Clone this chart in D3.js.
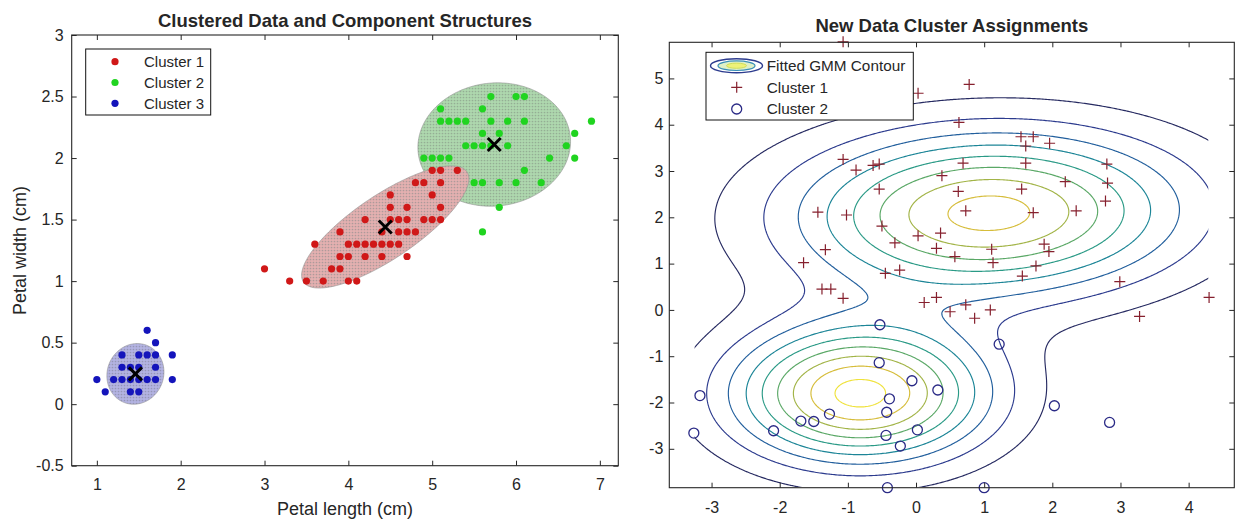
<!DOCTYPE html>
<html>
<head>
<meta charset="utf-8">
<script src="https://cdn.jsdelivr.net/npm/d3@7"></script>
<style>
  body { margin: 0; background: #fff; }
  text { font-family: "Liberation Sans", Arial, Helvetica, sans-serif; fill: #262626; }
</style>
</head>
<body>
<svg id="viewport"></svg>
<script>
// ---------- left panel: petal length / width, coloured by cluster ----------
const cluster1 = [[3.3,1.0],[3.5,1.0],[3.7,1.0],[4.0,1.0],[4.1,1.0],
  [3.0,1.1],[3.8,1.1],[3.9,1.1],
  [3.9,1.2],[4.0,1.2],[4.2,1.2],[4.4,1.2],[4.7,1.2],
  [3.6,1.3],[4.0,1.3],[4.1,1.3],[4.2,1.3],[4.3,1.3],[4.4,1.3],[4.5,1.3],[4.6,1.3],
  [3.9,1.4],[4.4,1.4],[4.6,1.4],[4.7,1.4],[4.8,1.4],
  [4.2,1.5],[4.5,1.5],[4.6,1.5],[4.7,1.5],[4.9,1.5],[5.0,1.5],[5.1,1.5],
  [4.5,1.6],[4.7,1.6],[5.1,1.6],
  [4.5,1.7],[5.0,1.7],
  [4.8,1.8],[4.9,1.8],[5.1,1.8],
  [5.0,1.9],[5.1,1.9],[5.3,1.9]];
const cluster2 = [[5.6,1.4],[5.8,1.6],
  [5.5,1.8],[5.6,1.8],[5.8,1.8],[6.0,1.8],[6.3,1.8],
  [6.1,1.9],
  [4.9,2.0],[5.0,2.0],[5.1,2.0],[5.2,2.0],[6.4,2.0],[6.7,2.0],
  [5.4,2.1],[5.5,2.1],[5.6,2.1],[5.7,2.1],[5.9,2.1],[6.6,2.1],
  [5.6,2.2],[5.8,2.2],[6.7,2.2],
  [5.1,2.3],[5.2,2.3],[5.3,2.3],[5.4,2.3],[5.7,2.3],[5.9,2.3],[6.1,2.3],[6.9,2.3],
  [5.1,2.4],[5.6,2.4],
  [5.7,2.5],[6.0,2.5],[6.1,2.5]];
const cluster3 = [[1.1,0.1],[1.4,0.1],[1.5,0.1],
  [1.0,0.2],[1.2,0.2],[1.3,0.2],[1.4,0.2],[1.5,0.2],[1.6,0.2],[1.7,0.2],[1.9,0.2],
  [1.3,0.3],[1.4,0.3],[1.5,0.3],[1.7,0.3],
  [1.3,0.4],[1.5,0.4],[1.6,0.4],[1.7,0.4],[1.9,0.4],
  [1.7,0.5],[1.6,0.6]];
const clusterNames = ["Cluster 1", "Cluster 2", "Cluster 3"];
// component means and ellipse half-axes (data units)
const compMeans = [[4.44,1.44],[5.74,2.11],[1.46,0.246]];
const compAxes = [[[0.975,0.448],[-0.212,0.214]],
                  [[0.91,0.04],[-0.03,0.50]],
                  [[0.34,0.03],[-0.02,0.245]]];
const leftXLim = [0.7, 7.22];
const leftYLim = [-0.5, 3];
const leftXTicks = [1,2,3,4,5,6,7];
const leftYTicks = [-0.5,0,0.5,1,1.5,2,2.5,3];

// ---------- right panel: new data + fitted GMM ----------
const newCluster1 = [[-1.07,5.79],[0.03,4.68],[0.78,4.87],[0.63,4.05],[1.54,3.74],[1.72,3.74],
  [1.61,3.54],[1.96,3.60],[0.69,3.17],[1.61,3.17],[2.80,3.15],[0.38,2.90],[2.19,2.77],
  [2.81,2.74],[0.62,2.56],[1.55,2.61],[2.78,2.35],[0.73,2.14],[1.72,2.10],[2.35,2.14],
  [0.36,1.66],[0.30,1.33],[0.57,1.15],[1.11,1.31],[1.88,1.42],[1.95,1.26],[-1.07,3.25],
  [-0.88,3.02],[-0.63,3.12],[-0.54,3.15],[-0.54,2.61],[-1.44,2.11],[-1.02,2.05],
  [1.13,1.02],[1.76,0.95],[1.56,0.73],[2.99,0.61],[4.30,0.27],[3.28,-0.14],[0.12,0.16],
  [0.30,0.27],[0.50,-0.04],[0.73,0.11],[0.86,-0.18],[1.09,0.00],[-1.65,1.02],
  [-1.38,0.45],[-1.25,0.45],[-1.07,0.25],[-0.45,0.79],[-0.24,0.86],[-1.33,1.30],
  [-0.50,1.81],[0.03,1.60],[-0.31,1.45]];
const newCluster2 = [[-0.53,-0.32],[-0.54,-1.14],[-0.06,-1.53],[0.32,-1.73],[-0.39,-1.92],
  [-0.43,-2.21],[-1.27,-2.25],[-1.50,-2.41],[-1.69,-2.40],[-2.09,-2.61],[-3.17,-1.85],
  [-3.26,-2.66],[-0.44,-2.71],[-0.23,-2.94],[0.02,-2.59],[-0.42,-3.84],[1.22,-0.74],
  [2.03,-2.07],[2.84,-2.43],[1.00,-3.84]];
const gmWeights = [0.62, 0.38];
const gmMeans = [[1.07,2.09],[-0.82,-1.81]];
const gmCovs = [[[3.8,0.1],[0.1,1.46]], [[1.64,0],[0,1.02]]];
const gmLevels = [0.005,0.01,0.015,0.02,0.025,0.03,0.035,0.04,0.045];
const rightXLim = [-3.62, 4.67];
const rightYLim = [-3.84, 5.78];
const rightXTicks = [-3,-2,-1,0,1,2,3,4];
const rightYTicks = [-3,-2,-1,0,1,2,3,4,5];

// ---------- drawing ----------
const svg = d3.select("#viewport").attr("width", 1235).attr("height", 521);
const defs = svg.append("defs");
const ink = "#262626";

const fmt = (d) => String(d);

function drawBox(g, x, y, xTicks, yTicks, pad) {
  const [x0, x1] = x.range(), [y0, y1] = y.range();
  g.append("g").attr("transform", `translate(0,${y0})`)
    .call(d3.axisBottom(x).tickValues(xTicks).tickFormat(fmt).tickSizeInner(-5).tickSizeOuter(0).tickPadding(pad.x));
  g.append("g").attr("transform", `translate(0,${y1})`)
    .call(d3.axisTop(x).tickValues(xTicks).tickFormat("").tickSizeInner(-5).tickSizeOuter(0));
  g.append("g").attr("transform", `translate(${x0},0)`)
    .call(d3.axisLeft(y).tickValues(yTicks).tickFormat(fmt).tickSizeInner(-5).tickSizeOuter(0).tickPadding(pad.y));
  g.append("g").attr("transform", `translate(${x1},0)`)
    .call(d3.axisRight(y).tickValues(yTicks).tickFormat("").tickSizeInner(-5).tickSizeOuter(0));
  g.selectAll(".domain").remove();
  g.selectAll(".tick line").attr("stroke", ink);
  g.selectAll(".tick text").attr("font-size", 16).attr("fill", ink)
    .style("font-family", '"Liberation Sans", Arial, sans-serif');
  g.append("rect").attr("x", x0).attr("y", y1).attr("width", x1 - x0).attr("height", y0 - y1)
    .attr("fill", "none").attr("stroke", ink).attr("stroke-width", 1.1);
}

// ===== left panel =====
const xL = d3.scaleLinear().domain(leftXLim).range([71.7, 618.3]);
const yL = d3.scaleLinear().domain(leftYLim).range([465.7, 35]);
const left = svg.append("g");

const ellipseStyles = [
  { id: "pat1", base: "#e4b0b0", dot: "#ad9a9a" },
  { id: "pat2", base: "#aed8ae", dot: "#94ae94" },
  { id: "pat3", base: "#b3b3e2", dot: "#9696b6" }
];
ellipseStyles.forEach((s) => {
  const p = defs.append("pattern").attr("id", s.id).attr("patternUnits", "userSpaceOnUse")
    .attr("width", 3).attr("height", 3);
  p.append("rect").attr("width", 3).attr("height", 3).attr("fill", s.base);
  p.append("circle").attr("cx", 1.5).attr("cy", 1.5).attr("r", 0.85).attr("fill", s.dot);
});

const ellipseLine = d3.line().x((d) => xL(d[0])).y((d) => yL(d[1])).curve(d3.curveLinearClosed);
const ellipsePoints = (k) => d3.range(0, 2 * Math.PI, Math.PI / 90).map((t) => [
  compMeans[k][0] + Math.cos(t) * compAxes[k][0][0] + Math.sin(t) * compAxes[k][1][0],
  compMeans[k][1] + Math.cos(t) * compAxes[k][0][1] + Math.sin(t) * compAxes[k][1][1]
]);
[1, 0, 2].forEach((k) => {
  left.append("path")
    .attr("d", ellipseLine(ellipsePoints(k)))
    .attr("fill", `url(#${ellipseStyles[k].id})`)
    .attr("stroke", "#909090").attr("stroke-width", 0.7).attr("stroke-opacity", 0.8);
});

const dotColors = ["#d01818", "#20d420", "#1414bb"];
[cluster1, cluster2, cluster3].forEach((pts, k) => {
  left.append("g").selectAll("circle").data(pts).enter().append("circle")
    .attr("cx", (d) => xL(d[0])).attr("cy", (d) => yL(d[1])).attr("r", 3.6)
    .attr("fill", dotColors[k]);
});

left.append("g").selectAll("path").data(compMeans).enter().append("path")
  .attr("transform", (d) => `translate(${xL(d[0])},${yL(d[1])})`)
  .attr("d", "M-6.5,-6.5L6.5,6.5M-6.5,6.5L6.5,-6.5")
  .attr("stroke", "#000").attr("stroke-width", 3).attr("fill", "none");

drawBox(left, xL, yL, leftXTicks, leftYTicks, { x: 13, y: 8 });

left.append("text").attr("x", 345).attr("y", 26.5).attr("text-anchor", "middle")
  .attr("font-size", 18.5).attr("font-weight", "bold").attr("fill", "#111")
  .text("Clustered Data and Component Structures");
left.append("text").attr("x", 345).attr("y", 515).attr("text-anchor", "middle")
  .attr("font-size", 18).text("Petal length (cm)");
left.append("text").attr("transform", "translate(26,250.5) rotate(-90)").attr("text-anchor", "middle")
  .attr("font-size", 18).text("Petal width (cm)");

// legend
const legL = left.append("g");
legL.append("rect").attr("x", 85.7).attr("y", 49).attr("width", 125).attr("height", 66)
  .attr("fill", "#fff").attr("stroke", "#111").attr("stroke-width", 1);
clusterNames.forEach((name, k) => {
  const cy = 61.7 + k * 20.8;
  legL.append("circle").attr("cx", 115).attr("cy", cy).attr("r", 3.6).attr("fill", dotColors[k]);
  legL.append("text").attr("x", 144).attr("y", cy).attr("dy", "0.35em").attr("font-size", 15).text(name);
});

// ===== right panel =====
const xR = d3.scaleLinear().domain(rightXLim).range([669.3, 1234.3]);
const yR = d3.scaleLinear().domain(rightYLim).range([487.7, 42.3]);
const right = svg.append("g");

function mvnpdf(x, y, mu, S) {
  const a = S[0][0], b = S[0][1], d = S[1][1];
  const det = a * d - b * b;
  const dx = x - mu[0], dy = y - mu[1];
  const q = (d * dx * dx - 2 * b * dx * dy + a * dy * dy) / det;
  return Math.exp(-q / 2) / (2 * Math.PI * Math.sqrt(det));
}
const gmPdf = (x, y) => d3.sum(gmWeights, (w, k) => w * mvnpdf(x, y, gmMeans[k], gmCovs[k]));

// contour grid spans the new data's extent
const allNew = newCluster1.concat(newCluster2);
const gxExt = d3.extent(allNew, (d) => d[0]);
const gyExt = d3.extent(allNew, (d) => d[1]);
const nx = 320, ny = 400;
const gx = d3.scaleLinear().domain([0.5, nx - 0.5]).range(gxExt);
const gy = d3.scaleLinear().domain([0.5, ny - 0.5]).range(gyExt);
const grid = new Float64Array(nx * ny);
for (let j = 0; j < ny; j++) {
  for (let i = 0; i < nx; i++) {
    grid[j * nx + i] = gmPdf(gx(i + 0.5), gy(j + 0.5));
  }
}
const contours = d3.contours().size([nx, ny]).thresholds(gmLevels)(grid);
const proj = d3.geoTransform({
  point: function (px, py) { this.stream.point(xR(gx(px)), yR(gy(py))); }
});
const contourPath = d3.geoPath(proj);

// clip just inside the grid so the closing edges of cut contours stay hidden
const inset = 0.8;
defs.append("clipPath").attr("id", "gridClip").append("rect")
  .attr("x", xR(gxExt[0]) + inset).attr("y", yR(gyExt[1]) + inset)
  .attr("width", xR(gxExt[1]) - xR(gxExt[0]) - 2 * inset)
  .attr("height", yR(gyExt[0]) - yR(gyExt[1]) - 2 * inset);

const levelColors = ["#272b62", "#2c3b8e", "#225f9d", "#1c8597", "#2a9a86",
                     "#5aa866", "#a2b447", "#d6bd3b", "#efe23c"];
right.append("g").attr("clip-path", "url(#gridClip)")
  .selectAll("path").data(contours).enter().append("path")
  .attr("d", contourPath)
  .attr("fill", "none")
  .attr("stroke", (d, i) => levelColors[i])
  .attr("stroke-width", 1.15);

const crossColor = "#86202e", ringColor = "#2a2a86";
right.append("g").selectAll("path").data(newCluster1).enter().append("path")
  .attr("transform", (d) => `translate(${xR(d[0])},${yR(d[1])})`)
  .attr("d", "M-5.5,0H5.5M0,-5.5V5.5")
  .attr("stroke", crossColor).attr("stroke-width", 1.2).attr("fill", "none");
right.append("g").selectAll("circle").data(newCluster2).enter().append("circle")
  .attr("cx", (d) => xR(d[0])).attr("cy", (d) => yR(d[1])).attr("r", 5)
  .attr("stroke", ringColor).attr("stroke-width", 1.3).attr("fill", "none");

drawBox(right, xR, yR, rightXTicks, rightYTicks, { x: 14, y: 6 });

right.append("text").attr("x", 951.8).attr("y", 32.3).attr("text-anchor", "middle")
  .attr("font-size", 18.5).attr("font-weight", "bold").attr("fill", "#111")
  .text("New Data Cluster Assignments");

// legend
const legR = right.append("g");
legR.append("rect").attr("x", 706).attr("y", 52.3).attr("width", 207.3).attr("height", 67.7)
  .attr("fill", "#fff").attr("stroke", "#111").attr("stroke-width", 1);
legR.append("ellipse").attr("cx", 736.5).attr("cy", 65.7).attr("rx", 26).attr("ry", 7)
  .attr("fill", "none").attr("stroke", levelColors[1]).attr("stroke-width", 1.4);
legR.append("ellipse").attr("cx", 736.5).attr("cy", 65.7).attr("rx", 18.5).attr("ry", 4.8)
  .attr("fill", "#dff0c8").attr("stroke", "#3a8fb8").attr("stroke-width", 1.2);
legR.append("ellipse").attr("cx", 736.5).attr("cy", 65.7).attr("rx", 10).attr("ry", 2.6)
  .attr("fill", "#eef27a").attr("stroke", "#c8d84a").attr("stroke-width", 0.8);
legR.append("text").attr("x", 766.7).attr("y", 65.7).attr("dy", "0.35em").attr("font-size", 15.3)
  .text("Fitted GMM Contour");
legR.append("path").attr("transform", "translate(736.7,87.3)").attr("d", "M-5.5,0H5.5M0,-5.5V5.5")
  .attr("stroke", crossColor).attr("stroke-width", 1.2);
legR.append("text").attr("x", 766.7).attr("y", 87.3).attr("dy", "0.35em").attr("font-size", 15.3)
  .text("Cluster 1");
legR.append("circle").attr("cx", 736.7).attr("cy", 109).attr("r", 5)
  .attr("stroke", ringColor).attr("stroke-width", 1.3).attr("fill", "none");
legR.append("text").attr("x", 766.7).attr("y", 109).attr("dy", "0.35em").attr("font-size", 15.3)
  .text("Cluster 2");
</script>
</body>
</html>
